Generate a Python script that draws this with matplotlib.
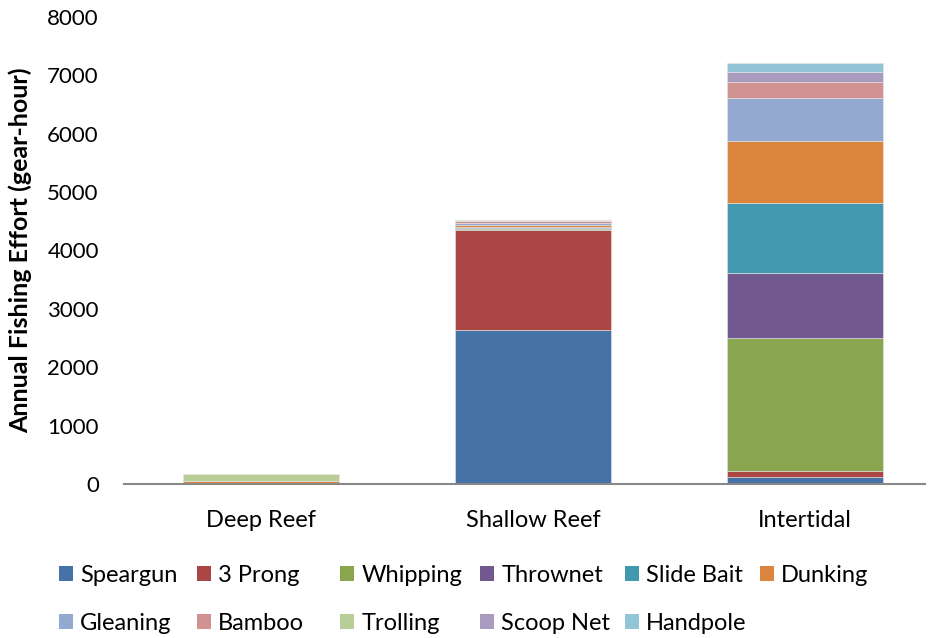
import matplotlib
matplotlib.use("Agg")
import matplotlib.pyplot as plt
from matplotlib.patches import Patch
import numpy as np

plt.rcParams['font.family'] = ['Lato', 'DejaVu Sans']

categories = ["Deep Reef", "Shallow Reef", "Intertidal"]
gears = ["Speargun", "3 Prong", "Whipping", "Thrownet", "Slide Bait", "Dunking",
         "Gleaning", "Bamboo", "Trolling", "Scoop Net", "Handpole"]
colors = ["#4572A7", "#AA4643", "#89A54E", "#71588F", "#4198AF", "#DB843D",
          "#93A9CF", "#D19392", "#B9CD96", "#A99BBD", "#92C5D5"]

# effort (gear-hours) per gear, ordered Deep Reef, Shallow Reef, Intertidal
speargun    = [0, 2640, 115]
three_prong = [0, 1710, 105]
whipping    = [0, 20, 2285]
thrownet    = [0, 20, 1115]
slide_bait  = [0, 20, 1195]
dunking     = [50, 25, 1065]
gleaning    = [0, 35, 740]
bamboo      = [0, 30, 265]
trolling    = [115, 30, 0]
scoop_net   = [0, 0, 170]
handpole    = [0, 0, 150]

series = [speargun, three_prong, whipping, thrownet, slide_bait, dunking,
          gleaning, bamboo, trolling, scoop_net, handpole]

W, H = 931, 638
fig = plt.figure(figsize=(W / 100, H / 100), dpi=100)
ax = fig.add_axes([0.1337, 0.2414, 0.86, 0.732])

x = np.arange(len(categories))
bottom = np.zeros(len(categories))
for name, vals, col in zip(gears, series, colors):
    vals = np.array(vals, dtype=float)
    ax.bar(x, vals, width=0.573, bottom=bottom, color=col,
           edgecolor="#e6e6e6", linewidth=0.4, label=name)
    bottom += vals

ax.set_ylim(0, 8000)
ax.set_xlim(-0.5, 2.44)
ax.set_yticks(np.arange(0, 8001, 1000))
ax.set_xticks(x)
ax.set_xticklabels(categories)
ax.tick_params(axis='both', length=0, colors="black")
ax.tick_params(axis='y', labelsize=16, pad=18.5)
ax.tick_params(axis='x', labelsize=17, pad=19)
for s in ["top", "right", "left"]:
    ax.spines[s].set_visible(False)
ax.spines["bottom"].set_color("#888888")
ax.spines["bottom"].set_linewidth(1.5)

ylab = ax.set_ylabel("Annual Fishing Effort (gear-hour)", fontsize=18,
                     fontweight="bold")
ylab.set_verticalalignment("center")
ax.yaxis.set_label_coords(-0.1305, 0.5)

# legend: two rows, six columns, each entry placed in its own slot
col_x = [59, 197, 340, 480, 625, 760]
row_y = [575.7, 623.3]
ncol = 6
for i, (name, col) in enumerate(zip(gears, colors)):
    r, c = divmod(i, ncol)
    fig.legend([Patch(facecolor=col, edgecolor="none")], [name],
               loc="center left",
               bbox_to_anchor=(col_x[c] / W, 1 - row_y[r] / H),
               frameon=False, fontsize=17, handlelength=0.6, handleheight=0.6,
               handletextpad=0.3, borderpad=0, borderaxespad=0)

fig.savefig("out.png", dpi=100)
